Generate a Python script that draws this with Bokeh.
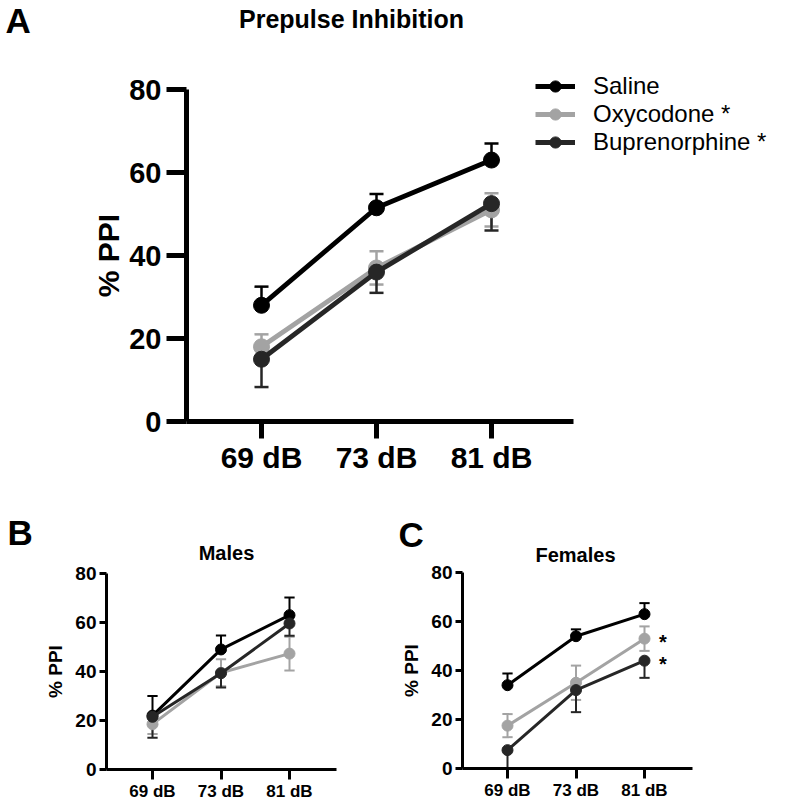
from bokeh.plotting import figure
from bokeh.models import Range1d, FixedTicker, Label, Legend, LegendItem, ColumnDataSource
from bokeh.layouts import column, row
from bokeh.embed import file_html
from bokeh.resources import INLINE
from bokeh.core.properties import value

# ---------------- data ----------------
categories = ["69 dB", "73 dB", "81 dB"]
series_names = ["Saline", "Oxycodone *", "Buprenorphine *"]
series_colors = ["#000000", "#a3a3a3", "#262626"]
y_ticks = [0, 20, 40, 60, 80]

# Panel A (all animals)
saline_all = [28, 51.5, 63]
saline_all_err = [4.5, 3.3, 4.0]
oxy_all = [18, 37, 51]
oxy_all_err = [3.0, 4.0, 4.0]
bup_all = [15, 36, 52.5]
bup_all_err = [6.7, 5.0, 6.5]

# Panel B (males)
saline_m = [22, 49, 63]
saline_m_err = [8.0, 5.7, 7.2]
oxy_m = [18.5, 39.5, 47.3]
oxy_m_err = [4.0, 5.5, 6.9]
bup_m = [21.5, 39.3, 59.6]
bup_m_err = [8.5, 5.8, 5.0]

# Panel C (females)
saline_f = [34, 54, 63]
saline_f_err = [4.8, 2.8, 4.5]
oxy_f = [17.5, 35, 53]
oxy_f_err = [4.7, 7.0, 5.0]
bup_f = [7.5, 32, 44]
bup_f_err = [7.5, 9.0, 7.0]
female_sig = [oxy_f[2], bup_f[2]]  # asterisks at 81 dB

# error bar direction per series: +1 up, -1 down, 0 both
err_dirs = [1, 0, -1]

FONT = "Liberation Sans"


def make_fig(w, h, x_first_px, px, y_zero_px, py, yaxis_px, xaxis_end_px):
    """Frame covers the whole figure; axes are drawn at fixed locations."""
    p = figure(width=w, height=h, output_backend="svg", toolbar_location=None,
               x_range=Range1d(-x_first_px / px, (w - x_first_px) / px),
               y_range=Range1d(-(h - y_zero_px) / py, y_zero_px / py),
               min_border_left=0, min_border_right=0, min_border_top=0, min_border_bottom=0,
               background_fill_color="white", border_fill_color="white")
    x_axis_at = (yaxis_px - x_first_px) / px
    p.yaxis.fixed_location = x_axis_at
    p.xaxis.fixed_location = 0
    p.xaxis.bounds = (x_axis_at, (xaxis_end_px - x_first_px) / px)
    p.yaxis.bounds = (0, 80)
    p.xgrid.grid_line_color = None
    p.ygrid.grid_line_color = None
    p.outline_line_color = None
    return p


def style_axes(p, tick_font, lab_font, ylab_font, axw, xtick_out, ytick_out,
               xstand, ystand, ylab_standoff):
    p.xaxis.ticker = FixedTicker(ticks=list(range(len(categories))))
    p.xaxis.major_label_overrides = {i: c for i, c in enumerate(categories)}
    p.yaxis.ticker = FixedTicker(ticks=y_ticks)
    for ax in (p.xaxis, p.yaxis):
        ax.axis_line_width = axw
        ax.major_tick_line_width = axw
        ax.major_tick_in = 0
        ax.minor_tick_line_color = None
        ax.major_label_text_font = FONT
        ax.major_label_text_font_style = "bold"
        ax.major_label_text_color = "black"
        ax.axis_line_color = "black"
        ax.major_tick_line_color = "black"
    p.xaxis.major_tick_out = xtick_out
    p.yaxis.major_tick_out = ytick_out
    p.xaxis.major_label_text_font_size = lab_font
    p.yaxis.major_label_text_font_size = tick_font
    p.xaxis.major_label_standoff = xstand
    p.yaxis.major_label_standoff = ystand
    p.yaxis.axis_label = "% PPI"
    p.yaxis.axis_label_text_font = FONT
    p.yaxis.axis_label_text_font_style = "bold"
    p.yaxis.axis_label_text_font_size = ylab_font
    p.yaxis.axis_label_text_color = "black"
    p.yaxis.axis_label_standoff = ylab_standoff


def draw_series(p, vals, errs, lw, msize, ew, cap):
    xs = list(range(len(categories)))
    rends = []
    for v, e, d, c in zip(vals, errs, err_dirs, series_colors):
        lo = [vi - ei if d <= 0 else vi for vi, ei in zip(v, e)]
        hi = [vi + ei if d >= 0 else vi for vi, ei in zip(v, e)]
        p.segment(x0=xs, y0=lo, x1=xs, y1=hi, line_color=c, line_width=ew)
        if d >= 0:
            p.segment(x0=[x - cap for x in xs], y0=hi, x1=[x + cap for x in xs], y1=hi,
                      line_color=c, line_width=ew)
        if d <= 0:
            p.segment(x0=[x - cap for x in xs], y0=lo, x1=[x + cap for x in xs], y1=lo,
                      line_color=c, line_width=ew)
    for v, c in zip(vals, series_colors):
        src = ColumnDataSource(dict(x=xs, y=v))
        l = p.line("x", "y", source=src, line_color=c, line_width=lw)
        s = p.scatter("x", "y", source=src, size=msize, fill_color=c, line_color=c)
        rends.append((l, s))
    return rends


def add_text(p, x, y, text, size, align="left"):
    p.add_layout(Label(x=x, y=y, x_units="screen", y_units="screen", text=text,
                       text_font=FONT, text_font_style="bold", text_font_size=size,
                       text_color="black", text_align=align, text_baseline="alphabetic"))


# ---------------- Panel A ----------------
A_w, A_h = 788, 496
pA = make_fig(A_w, A_h, 261, 115.0, 421, 4.15, 186, 573)
style_axes(pA, "29px", "30px", "30px", 5, 17, 20, 2, 5, 1)
rA = draw_series(pA, [saline_all, oxy_all, bup_all],
                 [saline_all_err, oxy_all_err, bup_all_err], 4.8, 16, 2.5, 0.061)

legend = Legend(items=[LegendItem(label=n, renderers=list(r)) for n, r in zip(series_names, rA)],
                location=(535, A_h - 156), glyph_width=40, glyph_height=28, label_height=28,
                label_standoff=18, spacing=0, padding=0, margin=0,
                border_line_color=None, background_fill_alpha=0,
                label_text_font=FONT, label_text_font_size="24px", label_text_color="black")
pA.add_layout(legend)

add_text(pA, 5, A_h - 20, "A", "35px")
add_text(pA, 351, A_h - 18, "Prepulse Inhibition", "25px", "center")

# ---------------- Panel B ----------------
S_w, S_h = 394, 308
pB = make_fig(S_w, S_h, 152, 68.5, 273, 2.45, 106, 336)
style_axes(pB, "19px", "17px", "19px", 3, 10, 7, 2, 3, 6)
draw_series(pB, [saline_m, oxy_m, bup_m], [saline_m_err, oxy_m_err, bup_m_err], 3, 11, 2, 0.075)
add_text(pB, 7, S_h - 36, "B", "35px")
add_text(pB, 226, S_h - 56, "Males", "20px", "center")

# ---------------- Panel C ----------------
pC = make_fig(S_w, S_h, 113, 68.5, 272, 2.45, 68, 298)
style_axes(pC, "19px", "17px", "19px", 3, 10, 7, 2, 3, 6)
draw_series(pC, [saline_f, oxy_f, bup_f], [saline_f_err, oxy_f_err, bup_f_err], 3, 11, 2, 0.075)
pC.text(x=[2.27, 2.27], y=[v - 1.5 for v in female_sig], text=["*", "*"],
        text_font=value(FONT), text_font_style="bold", text_font_size="20px",
        text_align="center", text_baseline="middle", text_color="black")
add_text(pC, 4, S_h - 38, "C", "35px")
add_text(pC, 181, S_h - 58, "Females", "20px", "center")

layout = column(pA, row(pB, pC, spacing=0), spacing=0)
open("out.html", "w").write(file_html(layout, INLINE))
